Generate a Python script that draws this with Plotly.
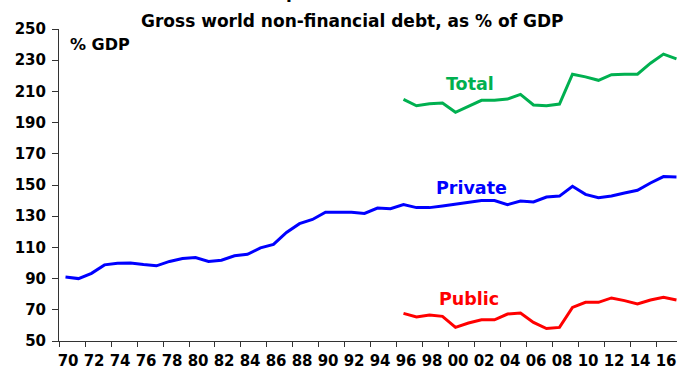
import plotly.graph_objects as go

years = list(range(1970, 2018))
private = [91, 90, 93.4, 98.8, 99.9, 100, 99, 98.2, 101, 102.9, 103.5, 101, 101.8, 104.6,
           105.6, 109.7, 111.9, 119.6, 125.2, 127.9, 132.6, 132.6, 132.6, 131.8, 135.2, 134.8,
           137.4, 135.5, 135.5, 136.5, 137.6, 138.9, 140, 140, 137.4, 139.7, 139.1, 142.3,
           142.9, 149.2, 144, 141.9, 142.9, 144.9, 146.6, 151.3, 155.4, 155.2]
sub_years = list(range(1996, 2018))
total = [204.9, 200.8, 202.1, 202.5, 196.6, 200.6, 204.3, 204.3, 205.1, 208.1, 201.3, 200.8,
         201.9, 221, 219.3, 217.1, 220.7, 221, 221, 228.1, 233.9, 230.9]
public = [67.7, 65.4, 66.6, 65.8, 58.7, 61.5, 63.6, 63.6, 67.3, 67.9, 61.9, 58.0, 58.7, 71.5,
          74.8, 74.8, 77.6, 75.9, 73.7, 76.3, 78.0, 76.3]
x_labels = ["70", "72", "74", "76", "78", "80", "82", "84", "86", "88", "90", "92", "94", "96",
            "98", "00", "02", "04", "06", "08", "10", "12", "14", "16"]
y_ticks = [50, 70, 90, 110, 130, 150, 170, 190, 210, 230, 250]

GREEN = "#00B050"
BLUE = "#0000FF"
RED = "#FF0000"
FONT = "DejaVu Sans"
AX = "#333333"

fig = go.Figure()
fig.add_trace(go.Scatter(x=years, y=private, mode="lines", line=dict(color=BLUE, width=3)))
fig.add_trace(go.Scatter(x=sub_years, y=total, mode="lines", line=dict(color=GREEN, width=3)))
fig.add_trace(go.Scatter(x=sub_years, y=public, mode="lines", line=dict(color=RED, width=3)))

label_pos = [1970 + 2 * i + 0.2 for i in range(len(x_labels))]
bounds = [1969.5 + 2 * i for i in range(25)]

fig.update_layout(
    width=677, height=369,
    margin=dict(l=59, r=0, t=29, b=28),
    paper_bgcolor="white", plot_bgcolor="white",
    showlegend=False,
    font=dict(family=FONT, color="black", size=15),
    xaxis=dict(range=[1969.5, 2017.04], tickmode="array", tickvals=label_pos, ticktext=x_labels,
               ticks="", showgrid=False, zeroline=False, showline=True, linecolor=AX, linewidth=1,
               tickfont=dict(family=FONT, size=15, weight="bold"), ticklabelstandoff=6,
               minor=dict(tickmode="array", tickvals=bounds, ticks="outside", ticklen=5,
                          tickcolor=AX, tickwidth=1, showgrid=False)),
    yaxis=dict(range=[50, 250], tickmode="array", tickvals=y_ticks, ticks="outside", ticklen=6,
               tickcolor=AX, showgrid=False, zeroline=False, showline=True, linecolor=AX,
               linewidth=1, tickfont=dict(family=FONT, size=15, weight="bold"),
               ticklabelstandoff=3),
)

def py(px):
    return (341 - px) / 312.0

fig.add_annotation(xref="paper", yref="paper", x=(352 - 59) / 618.0, y=py(20.5),
                   text="<b>Gross world non-financial debt, as % of GDP</b>", showarrow=False,
                   xanchor="center", yanchor="middle", font=dict(family=FONT, size=17, color="black"))
fig.add_annotation(xref="paper", yref="paper", x=(284 - 59) / 618.0, y=py(3.5),
                   text="<b>p</b>", showarrow=False, xanchor="left", yanchor="bottom",
                   font=dict(family=FONT, size=17, color="black"))
fig.add_annotation(xref="paper", yref="paper", x=(68 - 59) / 618.0, y=py(44.5),
                   text="<b>% GDP</b>", showarrow=False, xanchor="left", yanchor="middle",
                   font=dict(family=FONT, size=16, color="black"))
fig.add_annotation(xref="paper", yref="paper", x=(469.5 - 59) / 618.0, y=py(84),
                   text="<b>Total</b>", showarrow=False, xanchor="center", yanchor="middle",
                   font=dict(family=FONT, size=17.5, color=GREEN))
fig.add_annotation(xref="paper", yref="paper", x=(471.5 - 59) / 618.0, y=py(187.5),
                   text="<b>Private</b>", showarrow=False, xanchor="center", yanchor="middle",
                   font=dict(family=FONT, size=17.5, color=BLUE))
fig.add_annotation(xref="paper", yref="paper", x=(469 - 59) / 618.0, y=py(299),
                   text="<b>Public</b>", showarrow=False, xanchor="center", yanchor="middle",
                   font=dict(family=FONT, size=17.5, color=RED))

fig.write_html("out.html", config={"displayModeBar": False},
               post_script="document.body.style.margin='0';document.body.style.overflow='hidden';")
